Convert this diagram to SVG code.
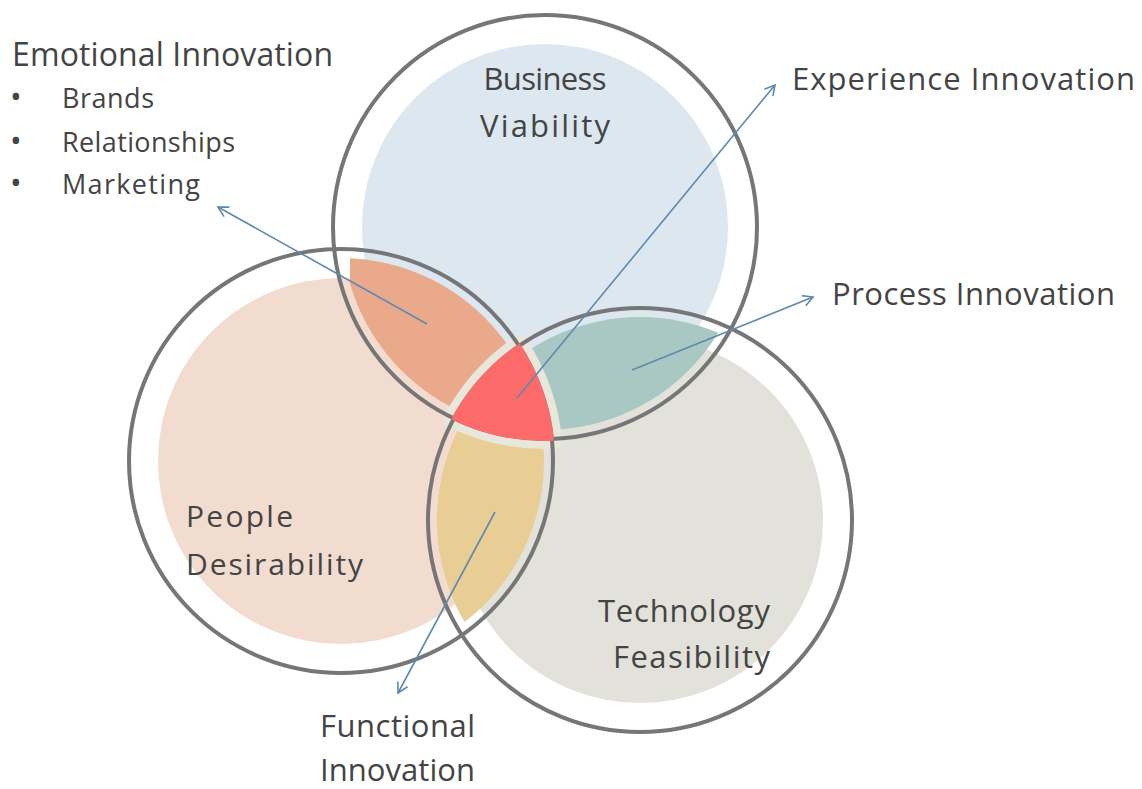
<svg xmlns="http://www.w3.org/2000/svg" width="1142" height="789" viewBox="0 0 1142 789">
<style>
.lbl{font-family:"Open Sans",Lato,"Liberation Sans",sans-serif;fill:#444444}
.bul{font-family:"Open Sans",Lato,"Liberation Sans",sans-serif;fill:#444444;font-size:31px}
.ring{fill:none;stroke:#767676;stroke-width:4}
.arr{fill:none;stroke:#5d8ab0;stroke-width:1.6;marker-end:url(#ah)}
</style>
<defs>
<marker id="ah" markerUnits="userSpaceOnUse" markerWidth="16" markerHeight="16" refX="11" refY="6" orient="auto">
<path d="M1,0.5 L11,6 L1,11.5" fill="none" stroke="#5d8ab0" stroke-width="1.6"/>
</marker>
<clipPath id="cT"><circle cx="545" cy="227" r="203"/></clipPath>
<clipPath id="cL"><circle cx="341" cy="461" r="203"/></clipPath>
<clipPath id="cR"><circle cx="640" cy="520" r="203"/></clipPath>
<clipPath id="cX"><rect x="350" y="0" width="800" height="789"/></clipPath>
</defs>
<rect width="1142" height="789" fill="#ffffff"/>

<g id="disks">
<circle cx="545" cy="227" r="183" fill="#dde7ef"/>
<circle cx="341" cy="461" r="183" fill="#f2dcd0"/>
<circle cx="640" cy="520" r="183" fill="#e2e2da"/>
</g>

<g id="lens-emotional" clip-path="url(#cX)"><g clip-path="url(#cT)"><g clip-path="url(#cL)"><rect x="0" y="0" width="1142" height="789" fill="#e9a98a"/></g></g></g>
<g id="lens-process" clip-path="url(#cT)"><g clip-path="url(#cR)"><rect x="0" y="0" width="1142" height="789" fill="#a9c7c3"/></g></g>
<g id="lens-functional" clip-path="url(#cL)"><g clip-path="url(#cR)"><rect x="0" y="0" width="1142" height="789" fill="#e8cd95"/></g></g>

<path id="halo" d="M519.6,343.2 A214,214 0 0 0 451.1,419.3 A214,214 0 0 0 554.0,440.8 A214,214 0 0 0 519.6,343.2 Z" fill="#e9e6dc" stroke="#e9e6dc" stroke-width="16" stroke-linejoin="round"/>

<g id="rings">
<circle class="ring" cx="545" cy="227" r="212"/>
<circle class="ring" cx="341" cy="461" r="212"/>
<circle class="ring" cx="640" cy="520" r="212"/>
</g>

<g id="node-experience-core">
<path d="M519.6,343.2 A214,214 0 0 0 451.1,419.3 A214,214 0 0 0 554.0,440.8 A214,214 0 0 0 519.6,343.2 Z" fill="#fc6a6a"/>
</g>

<g id="connectors">
<line class="arr" x1="427" y1="324" x2="218" y2="207"/>
<line class="arr" x1="517" y1="398" x2="775" y2="85"/>
<line class="arr" x1="632" y1="370" x2="813" y2="297"/>
<line class="arr" x1="495" y1="512" x2="398" y2="693"/>
</g>

<g id="node-business">
<text class="lbl" x="545" y="90" font-size="31" text-anchor="middle" textLength="123">Business</text>
<text class="lbl" x="545" y="137" font-size="31" text-anchor="middle" textLength="130">Viability</text>
</g>
<g id="node-people">
<text class="lbl" x="186" y="527" font-size="30" textLength="107">People</text>
<text class="lbl" x="186" y="575" font-size="30" textLength="177">Desirability</text>
</g>
<g id="node-technology">
<text class="lbl" x="598" y="622" font-size="31" textLength="172">Technology</text>
<text class="lbl" x="613" y="668" font-size="31" textLength="157">Feasibility</text>
</g>
<g id="label-emotional">
<text class="lbl" x="12" y="66" font-size="32" textLength="321">Emotional Innovation</text>
<text class="bul" x="10" y="108">•</text>
<text class="lbl" x="62" y="108" font-size="27" textLength="92">Brands</text>
<text class="bul" x="10" y="152">•</text>
<text class="lbl" x="62" y="152" font-size="27" textLength="173">Relationships</text>
<text class="bul" x="10" y="194">•</text>
<text class="lbl" x="62" y="194" font-size="27" textLength="138">Marketing</text>
</g>
<g id="label-experience">
<text class="lbl" x="792" y="90" font-size="31" textLength="343">Experience Innovation</text>
</g>
<g id="label-process">
<text class="lbl" x="832" y="305" font-size="31" textLength="283">Process Innovation</text>
</g>
<g id="label-functional">
<text class="lbl" x="320" y="737" font-size="31" textLength="155">Functional</text>
<text class="lbl" x="320" y="781" font-size="31" textLength="155">Innovation</text>
</g>
</svg>
